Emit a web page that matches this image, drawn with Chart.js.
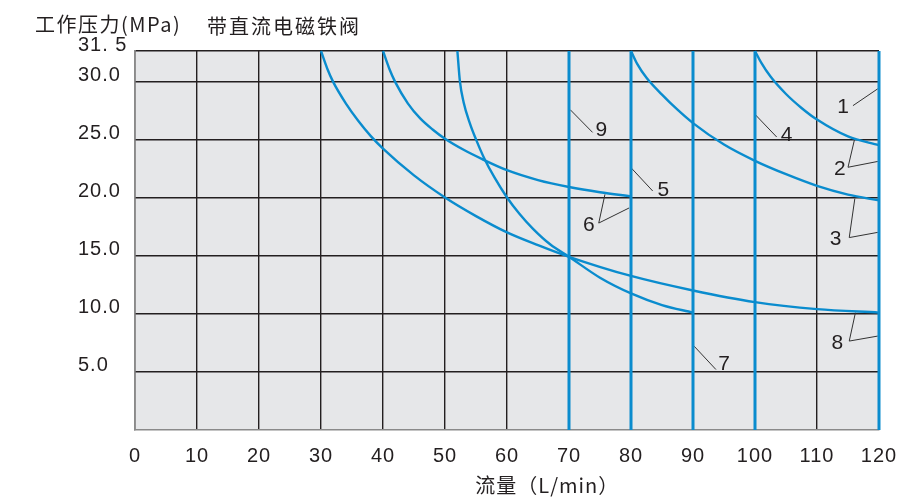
<!DOCTYPE html>
<html><head><meta charset="utf-8">
<script src="https://cdn.jsdelivr.net/npm/chart.js@4.4.1/dist/chart.umd.min.js"></script>
<style>html,body{margin:0;padding:0;background:#fff;overflow:hidden}</style>
</head><body>
<canvas id="c" width="905" height="497"></canvas>
<script>
// ---------- data ----------
const flowTicks = [0,10,20,30,40,50,60,70,80,90,100,110,120];
const Y_TOP = 32.6;                       // top edge of the plot, labelled "31. 5"
const pressureTicks = [5,10,15,20,25,30,Y_TOP];
const pressureTickLabels = ['5.0','10.0','15.0','20.0','25.0','30.0','31. 5'];

const curveAFlow     = [30, 31, 32, 34, 36, 38, 40, 45, 50, 55, 60, 65, 70, 80, 90, 100, 110, 120];
const curveAPressure = [Y_TOP, 31.1, 29.9, 28.1, 26.6, 25.3, 24.2, 21.9, 20.0, 18.4, 17.0, 15.9, 14.9, 13.25, 12.0, 11.0, 10.4, 10.1];

const curveBFlow     = [40, 41, 42, 44, 46, 48, 50, 53, 56, 60, 65, 70, 75, 80];
const curveBPressure = [Y_TOP, 31.1, 29.9, 28.1, 26.8, 25.85, 25.05, 24.1, 23.3, 22.35, 21.5, 20.9, 20.45, 20.1];

const curveCFlow     = [52.0, 52.4, 53.0, 54.0, 55.0, 56.3, 58.0, 60, 62, 64.2, 67, 70, 75, 80, 85, 90];
const curveCPressure = [Y_TOP, 30.0, 28.2, 26.4, 25.0, 23.4, 21.7, 20.0, 18.6, 17.3, 15.95, 14.9, 13.1, 11.75, 10.75, 10.1];

const curveDFlow     = [80, 81, 82.5, 85, 87.5, 90, 95, 100, 105, 110, 115, 120];
const curveDPressure = [Y_TOP, 31.5, 30.3, 28.85, 27.55, 26.4, 24.55, 23.15, 22.0, 21.0, 20.25, 19.75];

const curveEFlow     = [100, 101, 102.5, 105, 107.5, 110, 115, 120];
const curveEPressure = [Y_TOP, 31.6, 30.4, 28.9, 27.7, 26.7, 25.25, 24.5];

const limitFlows = [70, 80, 90, 100, 120];   // vertical flow limits

// callout numbers and their leader lines (data coordinates)
const calloutText     = ['1','2','3','4','5','6','7','8','9'];
const calloutFlow     = [114.2, 113.7, 113.0, 105.1, 85.2, 73.2, 95.0, 113.3, 75.2];
const calloutPressure = [27.8, 22.47, 16.4, 25.4, 20.66, 17.6, 5.65, 7.5, 25.8];
const leaderFlow = [
  [115.8, 119.8],
  [116.1, 115.0, 119.8],
  [116.1, 115.2, 119.8],
  [103.5, 100.0],
  [83.5, 80.06],
  [75.8, 74.8, 79.7],
  [93.7, 90.2],
  [116.2, 115.2, 119.8],
  [73.8, 70.2]
];
const leaderPressure = [
  [27.9, 29.35],
  [25.1, 22.6, 23.1],
  [19.9, 16.55, 17.0],
  [25.2, 27.15],
  [20.56, 22.53],
  [20.27, 17.8, 19.1],
  [5.2, 7.2],
  [10.1, 7.65, 8.08],
  [25.6, 27.55]
];

const yTitle = '工作压力(MPa)';
const chartTitle = '带直流电磁铁阀';
const xTitle = '流量（L/min）';

// ---------- build ----------
const BLUE = '#0a8cce';
const INK = '#231f20';
const zip = (xs, ys) => xs.map((x, i) => ({x, y: ys[i]}));
const curveStyle = {borderColor: BLUE, borderWidth: 2.4, pointRadius: 0, fill: false,
  cubicInterpolationMode: 'monotone', clip: false};

const datasets = [];
limitFlows.forEach(q => datasets.push({data: [{x:q, y:0}, {x:q, y:Y_TOP}],
  borderColor: BLUE, borderWidth: 3, pointRadius: 0, fill: false, clip: false}));
[[curveAFlow,curveAPressure],[curveBFlow,curveBPressure],[curveCFlow,curveCPressure],
 [curveDFlow,curveDPressure],[curveEFlow,curveEPressure]].forEach(([f,p]) =>
  datasets.push(Object.assign({data: zip(f,p)}, curveStyle)));
leaderFlow.forEach((f, i) => datasets.push({data: zip(f, leaderPressure[i]),
  borderColor: '#333', borderWidth: 1, pointRadius: 0, fill: false, tension: 0}));

const TICK_FONT = {family: "'Liberation Sans', Arial, sans-serif", size: 20};

const deco = {
  id: 'deco',
  beforeUpdate(chart){ chart.ctx.letterSpacing = '1px'; },
  beforeDraw(chart){
    chart.ctx.letterSpacing = '1px';
    const {ctx, chartArea: a} = chart;
    ctx.save();
    ctx.fillStyle = '#e6e7e9';
    ctx.fillRect(a.left, a.top, a.right - a.left, a.bottom - a.top);
    ctx.restore();
  },
  afterDraw(chart){
    const {ctx, chartArea: a, scales: {x, y}} = chart;
    ctx.save();
    ctx.fillStyle = INK;
    ctx.textBaseline = 'middle';
    ctx.textAlign = 'center';
    ctx.font = "21px 'Liberation Sans', Arial, sans-serif";
    ctx.letterSpacing = '0px';
    calloutText.forEach((t, i) => ctx.fillText(t, x.getPixelForValue(calloutFlow[i]), y.getPixelForValue(calloutPressure[i])));
    ctx.font = "20px 'Noto Sans CJK SC', sans-serif";
    ctx.letterSpacing = '1.5px';
    ctx.textAlign = 'left';
    ctx.fillText(yTitle, a.left - 100, a.top - 27);
    ctx.letterSpacing = '2px';
    ctx.fillText(chartTitle, a.left + 72, a.top - 25);
    ctx.letterSpacing = '1px';
    ctx.textAlign = 'center';
    ctx.fillText(xTitle, x.getPixelForValue(66.5), a.bottom + 55);
    ctx.restore();
  }
};

new Chart(document.getElementById('c'), {
  type: 'line',
  data: {datasets},
  plugins: [deco],
  options: {
    responsive: false, animation: false, devicePixelRatio: 1,
    layout: {padding: {left: 78, top: 51, right: 26, bottom: 26}},
    plugins: {legend: {display: false}, tooltip: {enabled: false}},
    scales: {
      x: {
        type: 'linear', min: 0, max: 120,
        afterBuildTicks: s => { s.ticks = flowTicks.map(v => ({value: v})); },
        afterFit: s => { s.height = 41; s.paddingLeft = 0; s.paddingRight = 0; },
        ticks: {font: TICK_FONT, color: INK, padding: 14, maxRotation: 0, autoSkip: false},
        grid: {color: INK, lineWidth: 1.4, drawTicks: false},
        border: {color: '#8a8a8a', width: 1.4}
      },
      y: {
        type: 'linear', min: 0, max: Y_TOP,
        afterBuildTicks: s => { s.ticks = pressureTicks.map(v => ({value: v})); },
        afterFit: s => { s.width = 57; },
        ticks: {font: TICK_FONT, color: INK, crossAlign: 'far', labelOffset: -6, autoSkip: false,
          callback: (v, i) => pressureTickLabels[i]},
        grid: {color: INK, lineWidth: 1.4, drawTicks: false},
        border: {color: '#8a8a8a', width: 1.4}
      }
    }
  }
});
</script>
</body></html>
